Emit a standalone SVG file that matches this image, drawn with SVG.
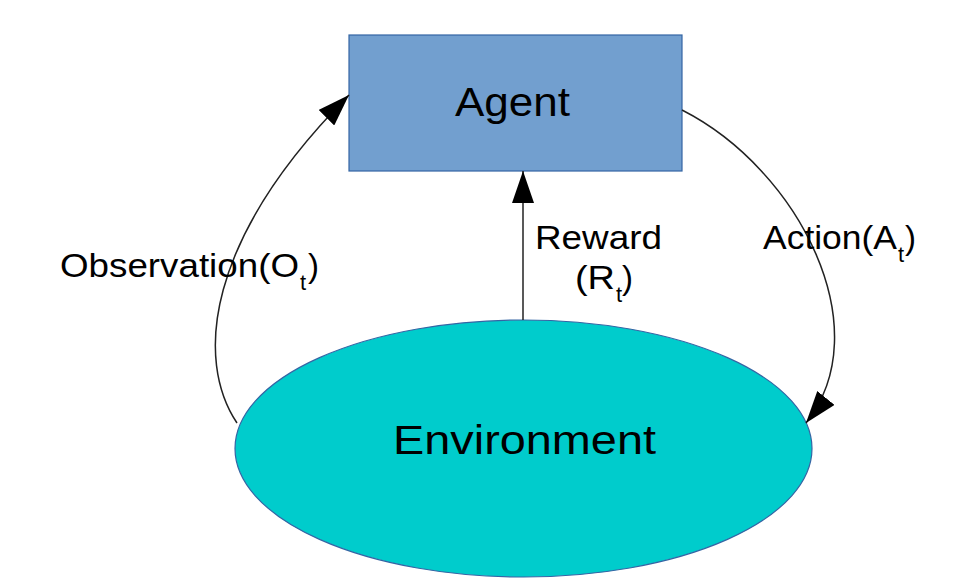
<svg xmlns="http://www.w3.org/2000/svg" width="973" height="582" viewBox="0 0 973 582">
  <style>
    .lbl { font-family: "Liberation Sans", Arial, sans-serif; fill: #000; }
    .big { font-size: 41px; }
    .mid { font-size: 33px; }
    .sub { font-size: 22px; }
    .conn { fill: none; stroke: #222; stroke-width: 1.5; }
  </style>
  <defs>
    <marker id="arrow" markerUnits="userSpaceOnUse" markerWidth="34" markerHeight="22" refX="32" refY="11" orient="auto">
      <path d="M0,0 L32,11 L0,22 z" fill="#000"/>
    </marker>
  </defs>
  <rect width="973" height="582" fill="#fff"/>

  <g id="agent">
    <rect x="349" y="35" width="333" height="136" fill="#729fcf" stroke="#3465a4" stroke-width="1.2"/>
    <text class="lbl big" x="455" y="116" textLength="115" lengthAdjust="spacingAndGlyphs">Agent</text>
  </g>

  <g id="environment">
    <ellipse cx="523.5" cy="448.5" rx="288.5" ry="128.5" fill="#00cccc" stroke="#3465a4" stroke-width="1.2"/>
    <text class="lbl big" x="393" y="454" textLength="263" lengthAdjust="spacingAndGlyphs">Environment</text>
  </g>

  <g id="connectors">
    <path class="conn" d="M237,423 C195,360 205,240 349,95" marker-end="url(#arrow)"/>
    <path class="conn" d="M523,320 L523,171" marker-end="url(#arrow)"/>
    <path class="conn" d="M682,110 C800,170 880,330 806,423" marker-end="url(#arrow)"/>
  </g>

  <g id="labels">
    <text class="lbl mid" x="60" y="277" textLength="239" lengthAdjust="spacingAndGlyphs">Observation(O</text>
    <text class="lbl sub" x="300" y="290">t</text>
    <text class="lbl mid" x="308" y="277">)</text>

    <text class="lbl mid" x="535" y="249" textLength="127" lengthAdjust="spacingAndGlyphs">Reward</text>
    <text class="lbl mid" x="575" y="289" textLength="40" lengthAdjust="spacingAndGlyphs">(R</text>
    <text class="lbl sub" x="616" y="302">t</text>
    <text class="lbl mid" x="622" y="289">)</text>

    <text class="lbl mid" x="763" y="249" textLength="134" lengthAdjust="spacingAndGlyphs">Action(A</text>
    <text class="lbl sub" x="898" y="262">t</text>
    <text class="lbl mid" x="905" y="249">)</text>
  </g>
</svg>
